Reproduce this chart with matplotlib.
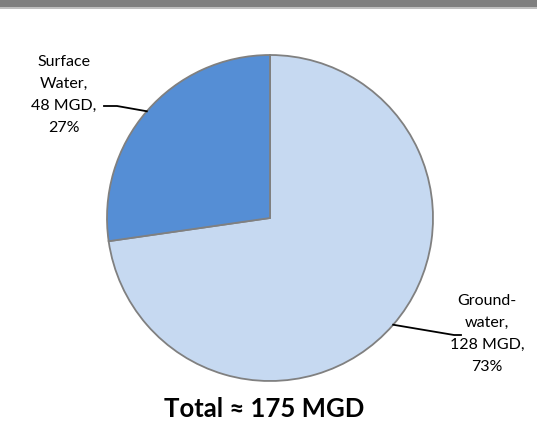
import numpy as np
import matplotlib
matplotlib.use("Agg")
import matplotlib.pyplot as plt
from matplotlib.patches import Rectangle

categories = ["Ground-\nwater", "Surface\nWater"]
values_mgd = [128, 48]
percents = [73, 27]
total_label = "Total \u2248 175 MGD"
colors = ["#C6D9F1", "#558ED5"]

W, H = 537, 430
fig = plt.figure(figsize=(W / 100, H / 100), dpi=100)
ax = fig.add_axes([0, 0, 1, 1])

# top banner
fig.patches.append(Rectangle((0, 1 - 7 / H), 1, 7 / H, transform=fig.transFigure,
                             facecolor="#7F7F7F", edgecolor="none"))
fig.patches.append(Rectangle((0, 1 - 8.5 / H), 1, 1.5 / H, transform=fig.transFigure,
                             facecolor="#BFBFBF", edgecolor="none"))

cx, cy, r = 270, H - 218, 163
wedges, _ = ax.pie(values_mgd, colors=colors, startangle=90, counterclock=False,
                   center=(cx, cy), radius=r, frame=True,
                   wedgeprops=dict(edgecolor="#808080", linewidth=1.3))
ax.set_xlim(0, W)
ax.set_ylim(0, H)
ax.set_aspect("equal")
ax.axis("off")

font = "Lato"
labels = [f"{c},\n{v} MGD,\n{p}%" for c, v, p in zip(categories, values_mgd, percents)]

# Groundwater label
w = wedges[0]
mid = np.deg2rad((w.theta1 + w.theta2) / 2)
p0 = (cx + r * np.cos(mid), cy + r * np.sin(mid))
ax.plot([p0[0], 454, 461], [p0[1], H - 335, H - 335], color="black", lw=1.3)
ax.text(487, H - 334, labels[0], ha="center", va="center", fontsize=11.5,
        family=font, linespacing=1.72)

# Surface water label
w = wedges[1]
mid = np.deg2rad((w.theta1 + w.theta2) / 2)
p1 = (cx + r * np.cos(mid), cy + r * np.sin(mid))
ax.plot([p1[0], 117, 104], [p1[1], H - 106, H - 106], color="black", lw=1.3)
ax.text(64, H - 95, labels[1], ha="center", va="center", fontsize=11.5,
        family=font, linespacing=1.72)

ax.text(264, H - 409, total_label, ha="center", va="center", fontsize=18.5,
        fontweight="bold", family=font)

fig.savefig("out.png", dpi=100)
